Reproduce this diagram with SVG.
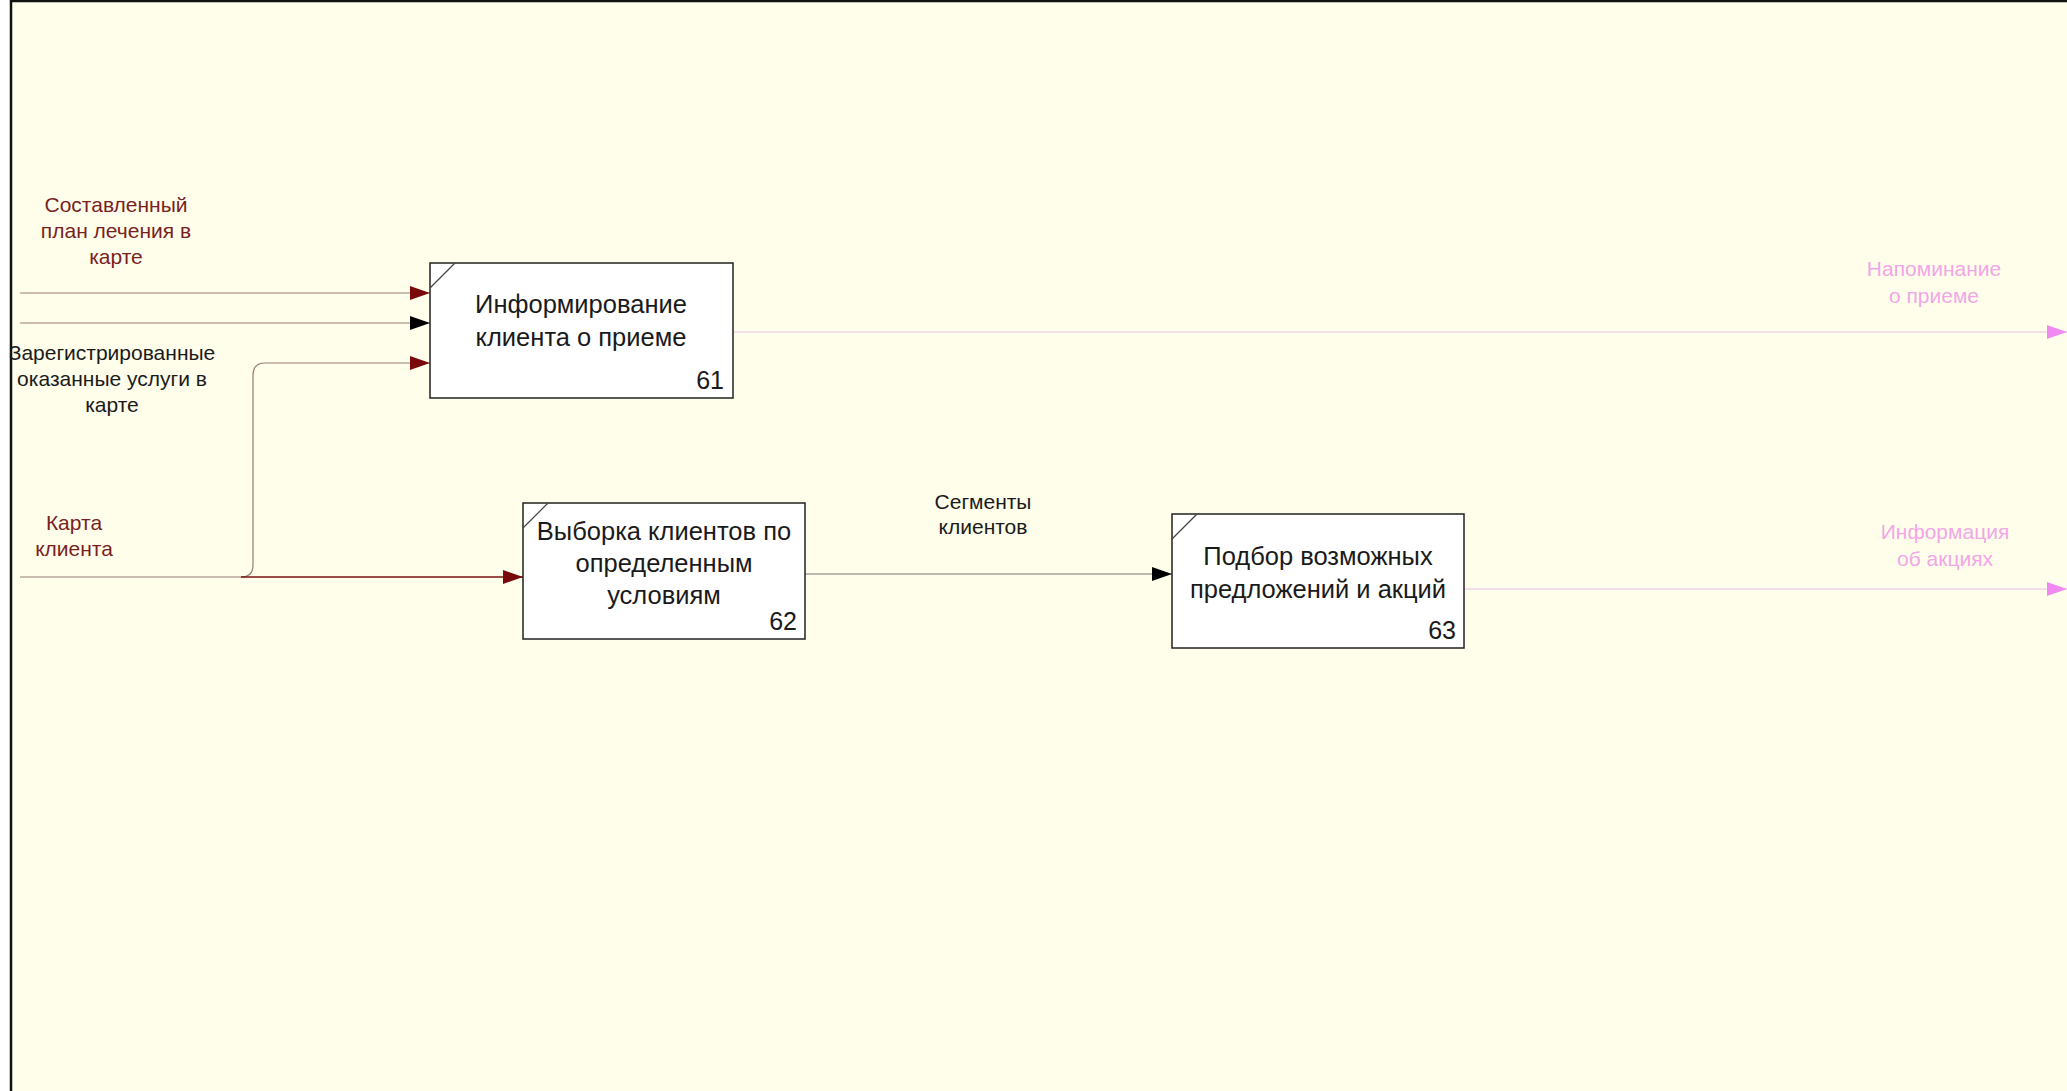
<svg xmlns="http://www.w3.org/2000/svg" width="2067" height="1091" viewBox="0 0 2067 1091">
<style>
.box{fill:#ffffff;stroke:#222;stroke-width:1.5}
.corner{stroke:#444;stroke-width:1.2}
.bt{font-family:"Liberation Sans",Arial,sans-serif;font-size:25.5px;fill:#1a1a1a;text-anchor:middle}
.num{font-family:"Liberation Sans",Arial,sans-serif;font-size:25px;fill:#1a1a1a;text-anchor:end}
.lb{font-family:"Liberation Sans",Arial,sans-serif;font-size:21px;text-anchor:middle}
.red{fill:#7a1f1f}
.blk{fill:#1a1a1a}
.pnk{fill:#f2a6e6}
.ln{fill:none;stroke:#9a7c7c;stroke-width:1.2}
.lnr{fill:none;stroke:#7a1010;stroke-width:1.6}
.lng{fill:none;stroke:#777;stroke-width:1.2}
.lnp{fill:none;stroke:#f0d4e8;stroke-width:1.5}
</style>
<defs>
<marker id="ar" markerWidth="20" markerHeight="14" refX="20" refY="7" orient="auto" markerUnits="userSpaceOnUse"><path d="M0,0 L20,7 L0,14 Z" fill="#7a0a0a"/></marker>
<marker id="ab" markerWidth="20" markerHeight="14" refX="20" refY="7" orient="auto" markerUnits="userSpaceOnUse"><path d="M0,0 L20,7 L0,14 Z" fill="#000"/></marker>
<marker id="ap" markerWidth="20" markerHeight="14" refX="20" refY="7" orient="auto" markerUnits="userSpaceOnUse"><path d="M0,0 L20,7 L0,14 Z" fill="#f08af0"/></marker>
</defs>
<rect x="0" y="0" width="2067" height="1091" fill="#ffffff"/>
<rect x="11" y="1" width="2056" height="1090" fill="#fefeeb"/>
<line x1="11" y1="0" x2="11" y2="1091" stroke="#111" stroke-width="2.5"/>
<line x1="10" y1="1" x2="2067" y2="1" stroke="#111" stroke-width="2.5"/>

<g id="connectors">
<path class="ln" d="M20,293 H430" marker-end="url(#ar)"/>
<path class="ln" d="M20,323 H430" marker-end="url(#ab)"/>
<path class="ln" d="M20,577 H241 Q253,577 253,565 V375 Q253,363 265,363 H430" marker-end="url(#ar)"/>
<path class="lnr" d="M241,577 H523" marker-end="url(#ar)"/>
<path class="lng" d="M805,574 H1172" marker-end="url(#ab)"/>
<path class="lnp" d="M733,332 H2067" marker-end="url(#ap)"/>
<path class="lnp" d="M1464,589 H2067" marker-end="url(#ap)"/>
<text class="lb red" x="116" y="212">Составленный</text>
<text class="lb red" x="116" y="238">план лечения в</text>
<text class="lb red" x="116" y="264">карте</text>
<text class="lb blk" x="112" y="360">Зарегистрированные</text>
<text class="lb blk" x="112" y="386">оказанные услуги в</text>
<text class="lb blk" x="112" y="412">карте</text>
<text class="lb red" x="74" y="530">Карта</text>
<text class="lb red" x="74" y="556">клиента</text>
<text class="lb blk" x="983" y="509">Сегменты</text>
<text class="lb blk" x="983" y="534">клиентов</text>
<text class="lb pnk" x="1934" y="276">Напоминание</text>
<text class="lb pnk" x="1934" y="303">о приеме</text>
<text class="lb pnk" x="1945" y="539">Информация</text>
<text class="lb pnk" x="1945" y="566">об акциях</text>
</g>

<g id="node61">
<rect class="box" x="430" y="263" width="303" height="135"/>
<line class="corner" x1="430" y1="288" x2="455" y2="263"/>
<text class="bt" x="581" y="313">Информирование</text>
<text class="bt" x="581" y="346">клиента о приеме</text>
<text class="num" x="724" y="389">61</text>
</g>

<g id="node62">
<rect class="box" x="523" y="503" width="282" height="136"/>
<line class="corner" x1="523" y1="528" x2="548" y2="503"/>
<text class="bt" x="664" y="540">Выборка клиентов по</text>
<text class="bt" x="664" y="572">определенным</text>
<text class="bt" x="664" y="604">условиям</text>
<text class="num" x="797" y="630">62</text>
</g>

<g id="node63">
<rect class="box" x="1172" y="514" width="292" height="134"/>
<line class="corner" x1="1172" y1="539" x2="1197" y2="514"/>
<text class="bt" x="1318" y="565">Подбор возможных</text>
<text class="bt" x="1318" y="598">предложений и акций</text>
<text class="num" x="1456" y="639">63</text>
</g>
</svg>
